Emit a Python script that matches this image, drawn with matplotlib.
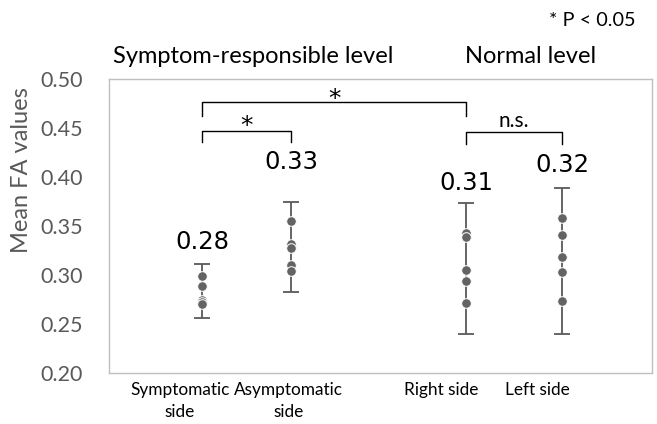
import matplotlib
matplotlib.use('Agg')
import matplotlib.pyplot as plt
import numpy as np

# ---------------- data ----------------
categories = ["Symptomatic\nside", "Asymptomatic\nside", "Right side", "Left side"]
means = [0.28, 0.33, 0.31, 0.32]
mean_labels = ["0.28", "0.33", "0.31", "0.32"]
points_sym = [0.299, 0.289, 0.275, 0.272, 0.270]
points_asym = [0.355, 0.332, 0.328, 0.310, 0.304]
points_right = [0.343, 0.339, 0.305, 0.294, 0.271]
points_left = [0.358, 0.341, 0.318, 0.303, 0.273]
err_low = [0.256, 0.283, 0.240, 0.240]
err_high = [0.311, 0.375, 0.373, 0.389]
group_labels = ["Symptom-responsible level", "Normal level"]
yticks = [0.20, 0.25, 0.30, 0.35, 0.40, 0.45, 0.50]
ytick_labels = ["0.20", "0.25", "0.30", "0.35", "0.40", "0.45", "0.50"]
sig_labels = ["*", "*", "n.s."]

# ---------------- layout ----------------
xpos = [1.0, 2.0, 3.97, 5.05]
label_x = [0.75, 1.97, 3.69, 4.77]
mean_label_y = [0.334, 0.415, 0.394, 0.412]

FONT = ["Lato", "DejaVu Sans"]
GRAY = "#595959"

fig = plt.figure(figsize=(6.57, 4.24), dpi=100)
ax = fig.add_axes([109 / 657, 1 - 373 / 424, (652 - 109) / 657, (373 - 79) / 424])
ax.set_xlim(-0.045, 6.06)
ax.set_ylim(0.20, 0.50)

for s in ax.spines.values():
    s.set_color("#bfbfbf")
    s.set_linewidth(1.0)
ax.set_xticks([])
ax.set_yticks(yticks)
ax.set_yticklabels(ytick_labels, fontsize=15.5, color=GRAY, family=FONT)
ax.tick_params(axis='y', length=0, pad=19)
ax.set_ylabel("Mean FA values", fontsize=17, color=GRAY, family=FONT)
ax.yaxis.set_label_coords(-0.142, 0.69)

# error bars
m = np.array(means)
lo = m - np.array(err_low)
hi = np.array(err_high) - m
ax.errorbar(xpos, means, yerr=[lo, hi], fmt='none', ecolor=GRAY,
            elinewidth=1.3, capsize=6, capthick=1.3, zorder=2)

# points
for x, pts in zip(xpos, [points_sym, points_asym, points_right, points_left]):
    ax.scatter([x] * len(pts), pts, s=48, color="#636363", edgecolor="white",
               linewidth=0.7, zorder=3)

# mean labels
for x, y, t in zip(xpos, mean_label_y, mean_labels):
    ax.text(x, y, t, ha='center', va='center', fontsize=17.5, color='black',
            family=["DejaVu Sans"])

# category labels
for x, t in zip(label_x, categories):
    ax.text(x, 0.1905, t, ha='center', va='top', fontsize=12.4, color='black',
            family=FONT, linespacing=1.45, clip_on=False)

# group labels
ax.text(1.58, 0.523, group_labels[0], ha='center', va='center', fontsize=17,
        color='black', family=FONT, clip_on=False)
ax.text(4.70, 0.523, group_labels[1], ha='center', va='center', fontsize=17,
        color='black', family=FONT, clip_on=False)

# significance note
fig.text(592 / 657, 1 - 20 / 424, "* P < 0.05", ha='center', va='center',
         fontsize=14.3, color='black', family=FONT)

# brackets
def bracket(x1, x2, ytop, ybot):
    ax.plot([x1, x1, x2, x2], [ybot, ytop, ytop, ybot], color='black',
            lw=1.0, clip_on=False, zorder=4)

bracket(xpos[0], xpos[2], 0.4764, 0.462)
bracket(xpos[0], xpos[1], 0.4467, 0.4355)
bracket(xpos[2], xpos[3], 0.4457, 0.4335)

ax.text((xpos[0] + xpos[2]) / 2, 0.4723, sig_labels[0], ha='center',
        va='baseline', fontsize=18, color='black', family=["DejaVu Sans"])
ax.text((xpos[0] + xpos[1]) / 2, 0.4447, sig_labels[1], ha='center',
        va='baseline', fontsize=18, color='black', family=["DejaVu Sans"])
ax.text((xpos[2] + xpos[3]) / 2, 0.457, sig_labels[2], ha='center',
        va='center', fontsize=15, color='black', family=FONT)

fig.savefig("out.png", dpi=100)
